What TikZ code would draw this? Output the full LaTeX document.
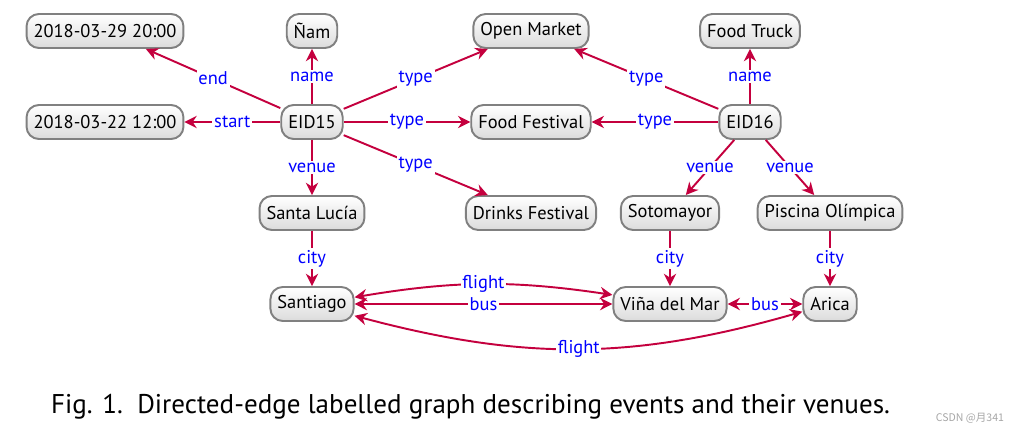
\documentclass[tikz,border=0pt]{standalone}
\usepackage{fontspec}
\setmainfont{PT Sans}
\newfontfamily\cjk{Noto Sans CJK SC}
\usetikzlibrary{positioning,arrows.meta}
\definecolor{edgered}{RGB}{196,0,62}
\definecolor{boxgray}{RGB}{128,128,128}
\tikzset{
  ent/.style={draw=boxgray, line width=1.1pt, rounded corners=7pt, top color=white, bottom color=gray!28, minimum height=0.68cm, inner xsep=0.14cm, font=\fontsize{10.5}{12}\selectfont},
  rel/.style={draw=edgered, line width=1.1pt, -{Stealth[length=7pt,width=7pt]}},
  relb/.style={rel, {Stealth[length=7pt,width=7pt]}-{Stealth[length=7pt,width=7pt]}},
  lab/.style={fill=white, inner sep=1pt, text=blue, font=\fontsize{10.5}{12}\selectfont}
}

\begin{document}
\begin{tikzpicture}[node distance=1.82cm, on grid]
  \useasboundingbox (0,0) rectangle (20.34,8.68);
  \node[ent] (eid15) at (6.24,6.24) {EID15};
  \node[ent] (start) at (2.1,6.24) {2018-03-22 12:00};
  \node[ent] (fest) at (10.62,6.24) {Food Festival};
  \node[ent] (eid16) at (15.0,6.24) {EID16};
  \node[ent, above=of start] (end) {2018-03-29 20:00};
  \node[ent, above=of eid15] (nam) {Ñam};
  \node[ent, above=of fest] (market) {Open Market};
  \node[ent, above=of eid16] (truck) {Food Truck};
  \node[ent, below=of eid15] (santa) {Santa Lucía};
  \node[ent, below=of fest] (drinks) {Drinks Festival};
  \node[ent] (soto) at (13.4,4.42) {Sotomayor};
  \node[ent] (pisc) at (16.6,4.42) {Piscina Olímpica};
  \node[ent, below=of santa] (stgo) {Santiago};
  \node[ent, below=of soto] (vina) {Viña del Mar};
  \node[ent, below=of pisc] (arica) {Arica};

  \draw[rel] (eid15) -- node[lab] {end} (end);
  \draw[rel] (eid15) -- node[lab] {start} (start);
  \draw[rel] (eid15) -- node[lab] {name} (nam);
  \draw[rel] (eid15) -- node[lab] {type} (market);
  \draw[rel] (eid15) -- node[lab] {type} (fest);
  \draw[rel] (eid15) -- node[lab] {type} (drinks);
  \draw[rel] (eid15) -- node[lab] {venue} (santa);
  \draw[rel] (eid16) -- node[lab] {type} (market);
  \draw[rel] (eid16) -- node[lab] {type} (fest);
  \draw[rel] (eid16) -- node[lab] {name} (truck);
  \draw[rel] (eid16) -- node[lab] {venue} (soto);
  \draw[rel] (eid16) -- node[lab] {venue} (pisc);
  \draw[rel] (santa) -- node[lab] {city} (stgo);
  \draw[rel] (soto) -- node[lab] {city} (vina);
  \draw[rel] (pisc) -- node[lab] {city} (arica);
  \draw[relb] (stgo) -- node[lab] {bus} (vina);
  \draw[relb] (stgo) to[bend left=9] node[lab] {flight} (vina);
  \draw[relb] (vina) -- node[lab] {bus} (arica);
  \draw[relb] (stgo) to[bend right=15.5] node[lab] {flight} (arica);

  \node[font=\fontsize{15.4}{18}\selectfont] (cap) at (9.41,0.54) {Fig. 1.\ \ Directed-edge labelled graph describing events and their venues.};
  \node[font=\cjk\fontsize{6}{7}\selectfont, text=gray!70] (mark) at (19.4,0.32) {CSDN @月341};
\end{tikzpicture}
\end{document}
